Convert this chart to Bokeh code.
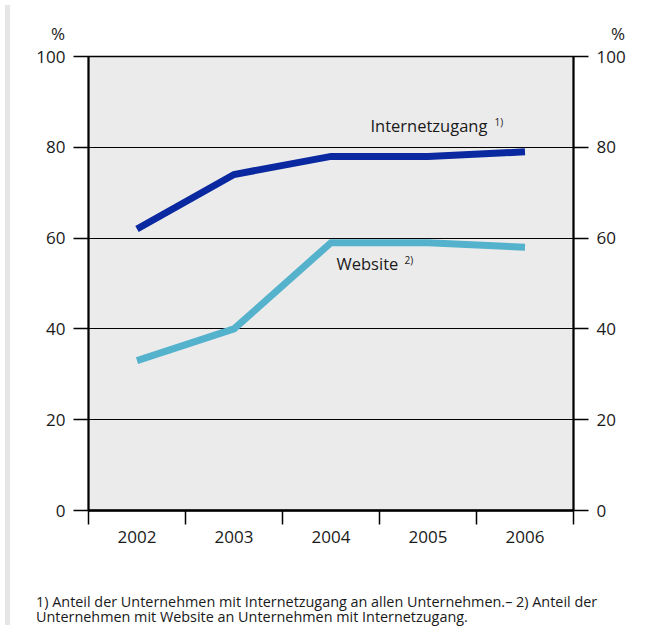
from bokeh.plotting import figure
from bokeh.models import FixedTicker, LinearAxis, Label, Range1d, Div
from bokeh.layouts import row, column
from bokeh.embed import file_html
from bokeh.resources import INLINE

# ---- data ----
years = ["2002", "2003", "2004", "2005", "2006"]
internetzugang = [62, 74, 78, 78, 79]
website = [33, 40, 59, 59, 58]
y_ticks = [0, 20, 40, 60, 80, 100]
unit = "%"
footnote_1 = "1) Anteil der Unternehmen mit Internetzugang an allen Unternehmen.\u2013 2) Anteil der"
footnote_2 = "Unternehmen mit Website an Unternehmen mit Internetzugang."

FONT = "Open Sans"
TXT = "#1a1a1a"
W = 630
TOP_H = 34
FIG_H = 530
FOOT_H = 56
xc = [i + 0.5 for i in range(len(years))]

p = figure(width=W, height=FIG_H, x_range=Range1d(0, len(years)), y_range=Range1d(0, 100),
           output_backend="svg", toolbar_location=None,
           min_border_left=73, min_border_right=72, min_border_top=12, min_border_bottom=64,
           x_axis_location=None, y_axis_location=None)
p.background_fill_color = "#ebebeb"
p.border_fill_color = "white"
p.outline_line_color = "black"
p.outline_line_width = 1.5

p.xgrid.visible = False
p.ygrid.ticker = FixedTicker(ticks=y_ticks)
p.ygrid.grid_line_color = "black"
p.ygrid.grid_line_width = 1.2

def style_y(ax):
    ax.ticker = FixedTicker(ticks=y_ticks)
    ax.axis_line_color = "black"
    ax.axis_line_width = 2
    ax.major_tick_line_color = "black"
    ax.major_tick_line_width = 1.5
    ax.major_tick_out = 15
    ax.major_tick_in = 0
    ax.minor_tick_line_color = None
    ax.major_label_standoff = 8
    ax.major_label_text_font = FONT
    ax.major_label_text_font_size = "17px"
    ax.major_label_text_color = TXT

left = LinearAxis()
style_y(left)
p.add_layout(left, "left")
right = LinearAxis()
style_y(right)
p.add_layout(right, "right")

bottom = LinearAxis()
bottom.ticker = FixedTicker(ticks=xc, minor_ticks=list(range(len(years) + 1)))
bottom.major_label_overrides = {x: y for x, y in zip(xc, years)}
bottom.axis_line_color = "black"
bottom.axis_line_width = 2.5
bottom.major_tick_line_color = None
bottom.major_tick_out = 0
bottom.major_tick_in = 0
bottom.minor_tick_line_color = "black"
bottom.minor_tick_line_width = 1.5
bottom.minor_tick_out = 14
bottom.minor_tick_in = 0
bottom.major_label_standoff = 6
bottom.major_label_text_font = FONT
bottom.major_label_text_font_size = "17px"
bottom.major_label_text_color = TXT
p.add_layout(bottom, "below")

p.line(xc, internetzugang, line_color="#0a28a0", line_width=7, line_join="miter")
p.line(xc, website, line_color="#55b2cd", line_width=7, line_join="miter")

def lab(x, y, text, size):
    p.add_layout(Label(x=x, y=y, text=text, text_font=FONT, text_font_size=size,
                       text_color=TXT, text_align="left", text_baseline="middle"))

lab(2.907, 84.8, "Internetzugang", "16.5px")
lab(4.186, 85.6, "1)", "10px")
lab(2.557, 54.4, "Website", "16.5px")
lab(3.258, 55.2, "2)", "10px")

def abs_span(x, y, text, tx, extra=""):
    return ('<span style="position:absolute;left:{}px;top:{}px;white-space:nowrap;{}'
            'transform:translate({},-50%);">{}</span>').format(x, y, extra, tx, text)

def abs_line(x, top, text):
    return ('<div style="position:absolute;left:{}px;top:{}px;height:15px;line-height:15px;'
            'white-space:nowrap;">{}</div>').format(x, top, text)

top_html = ('<div style="position:relative;width:{w}px;height:{h}px;font-family:\'Open Sans\';'
            'font-size:17px;color:{c};">{a}{b}</div>').format(
    w=W, h=TOP_H, c=TXT,
    a=abs_span(38, 28, unit, "-50%", "line-height:1;"),
    b=abs_span(598, 28, unit, "-50%", "line-height:1;"))
top = Div(text=top_html, width=W, height=TOP_H)

foot_html = ('<div style="position:relative;width:{w}px;height:{h}px;font-family:\'Open Sans\';'
             'font-size:14.4px;color:{c};">{a}{b}</div>').format(
    w=W, h=FOOT_H, c=TXT,
    a=abs_line(16, 15, footnote_1), b=abs_line(16, 30, footnote_2))
foot = Div(text=foot_html, width=W, height=FOOT_H)

pad = Div(text="", width=5, height=TOP_H + FIG_H + FOOT_H, styles={"background-color": "#e6e6e6"})
layout = row(pad, column(top, p, foot, spacing=0), spacing=0)

open("out.html", "w").write(file_html(layout, INLINE))
